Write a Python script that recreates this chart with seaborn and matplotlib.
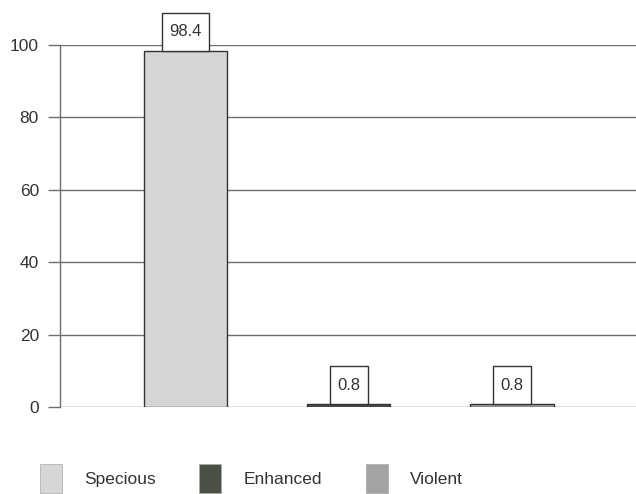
import matplotlib
matplotlib.use("Agg")
import matplotlib.pyplot as plt
import seaborn as sns
import pandas as pd

categories = ["Specious", "Enhanced", "Violent"]
values = [98.4, 0.8, 0.8]
bar_colors = ["#d6d6d6", "#4b5046", "#a3a3a3"]
y_ticks = [0, 20, 40, 60, 80, 100]

sns.set_theme(style="white")
plt.rcParams["font.family"] = ["Liberation Sans", "DejaVu Sans"]

df = pd.DataFrame({"category": categories, "value": values})

fig = plt.figure(figsize=(6.36, 4.94), dpi=100)
ax = fig.add_axes([0.094, 0.176, 0.906, 0.733])

sns.barplot(data=df, x="category", y="value", hue="category",
            palette=bar_colors, dodge=False, width=0.51,
            edgecolor="#333333", linewidth=1.0, legend=False, ax=ax, zorder=3)

ax.set_xlim(-0.77, 2.76)
ax.set_ylim(0, 100)
ax.set_yticks(y_ticks)
ax.set_yticklabels([str(t) for t in y_ticks], fontsize=12.5, color="#333333")
ax.set_xticks([])
ax.set_xlabel("")
ax.set_ylabel("")
ax.yaxis.grid(True, color="#6e6e6e", linewidth=1.0, zorder=0)
ax.tick_params(axis="y", length=9, width=1, color="#6e6e6e", pad=6, left=True)
for side in ["top", "right", "bottom"]:
    ax.spines[side].set_visible(False)
ax.spines["left"].set_color("#6e6e6e")
ax.spines["left"].set_linewidth(1.0)

# value labels in tall white boxes sitting on top of each bar
fig.canvas.draw()
renderer = fig.canvas.get_renderer()
W, H = fig.bbox.width, fig.bbox.height
box_h = 38.0
for i, v in enumerate(values):
    px, py = ax.transData.transform((i, v))
    txt = fig.text(px / W, (py + box_h / 2) / H, f"{v}", ha="center", va="center",
                   fontsize=12, color="#333333", zorder=6)
    tw = txt.get_window_extent(renderer).width + 15
    rect = plt.Rectangle(((px - tw / 2) / W, py / H), tw / W, box_h / H,
                         transform=fig.transFigure, fc="white", ec="#333333",
                         lw=1.0, zorder=5)
    fig.add_artist(rect)

handles = [plt.Rectangle((0, 0), 1, 1, fc=c, ec="#aaaaaa", lw=0.5) for c in bar_colors]
fig.legend(handles, categories, loc="lower left", bbox_to_anchor=(0.038, -0.03),
           ncol=3, frameon=False, fontsize=12.5, handlelength=1.26, handleheight=2.2,
           columnspacing=2.5, handletextpad=1.3, labelcolor="#333333")

fig.savefig("out.png", dpi=100)
